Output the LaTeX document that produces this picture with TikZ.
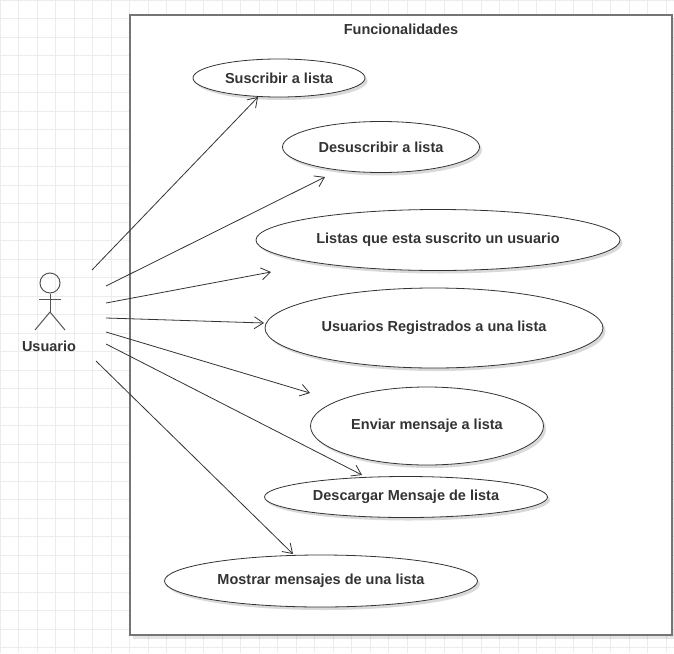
\documentclass[tikz,border=0pt]{standalone}
\usepackage{fontspec}
\setmainfont{Liberation Sans}
\usetikzlibrary{shapes.geometric,arrows.meta,shadows}
\definecolor{inkgray}{HTML}{333333}
\definecolor{framegray}{HTML}{757575}
\definecolor{gridgray}{HTML}{ECECEC}
\definecolor{actorgray}{HTML}{555555}
\begin{document}
\begin{tikzpicture}[x=1pt,y=-1pt,
  labelfont/.style={font=\fontsize{14.5}{17}\selectfont\bfseries, text=inkgray},
  usecase/.style={ellipse, draw=inkgray, line width=0.8pt, fill=white, inner sep=0pt, labelfont,
    drop shadow={shadow xshift=2.5pt, shadow yshift=-3pt, opacity=0.15, fill=black}},
  assoc/.style={draw=inkgray, line width=0.8pt, -{Straight Barb[length=9pt,width=12pt,line width=0.8pt]}},
  actorline/.style={draw=actorgray, line width=1pt}]

% page and background grid
\useasboundingbox (0,0) rectangle (674,653);
\fill[white] (0,0) rectangle (674,653);
\draw[gridgray, line width=0.6pt, step=18.5pt] (0,0) grid (674,653);

% system boundary
\fill[black, opacity=0.10] (133,18) rectangle (675,639);
\draw[framegray, line width=1.8pt, fill=white] (130,15) rectangle (672,635);
\node[labelfont] (title) at (401,29) {Funcionalidades};

% use cases
\node[usecase, minimum width=172pt, minimum height=38pt] (uc1) at (279,78) {Suscribir a lista};
\node[usecase, minimum width=197pt, minimum height=51pt] (uc2) at (381,147) {Desuscribir a lista};
\node[usecase, minimum width=364pt, minimum height=61pt] (uc3) at (438,240) {Listas que esta suscrito un usuario};
\node[usecase, minimum width=338pt, minimum height=80pt] (uc4) at (434,328) {Usuarios Registrados a una lista};
\node[usecase, minimum width=233pt, minimum height=78pt] (uc5) at (427,426) {Enviar mensaje a lista};
\node[usecase, minimum width=283pt, minimum height=41pt] (uc6) at (406,497) {Descargar Mensaje de lista};
\node[usecase, minimum width=313pt, minimum height=52pt] (uc7) at (321,581) {Mostrar mensajes de una lista};

% actor
\node[circle, actorline, minimum size=20pt, inner sep=0pt] (head) at (50,283) {};
\coordinate (hip) at (50,312);
\coordinate (armL) at (39,299);
\coordinate (armR) at (61,299);
\coordinate (footL) at (35,330);
\coordinate (footR) at (65,330);
\draw[actorline] (head.south) -- (hip);
\draw[actorline] (armL) -- (armR);
\draw[actorline] (footL) -- (hip) -- (footR);
\node[labelfont] (actor) at (49,346) {Usuario};

% association end points
\coordinate (s1) at (92,270);  \coordinate (e1) at (258,97);
\coordinate (s2) at (106,286); \coordinate (e2) at (325,177);
\coordinate (s3) at (106,303); \coordinate (e3) at (271,272);
\coordinate (s4) at (106,318); \coordinate (e4) at (264,323);
\coordinate (s5) at (106,332); \coordinate (e5) at (310,393);
\coordinate (s6) at (106,344); \coordinate (e6) at (362,475);
\coordinate (s7) at (96,361);  \coordinate (e7) at (293,554);

\foreach \i in {1,...,7} {
  \draw[assoc] (s\i) -- (e\i);
}
\end{tikzpicture}
\end{document}
